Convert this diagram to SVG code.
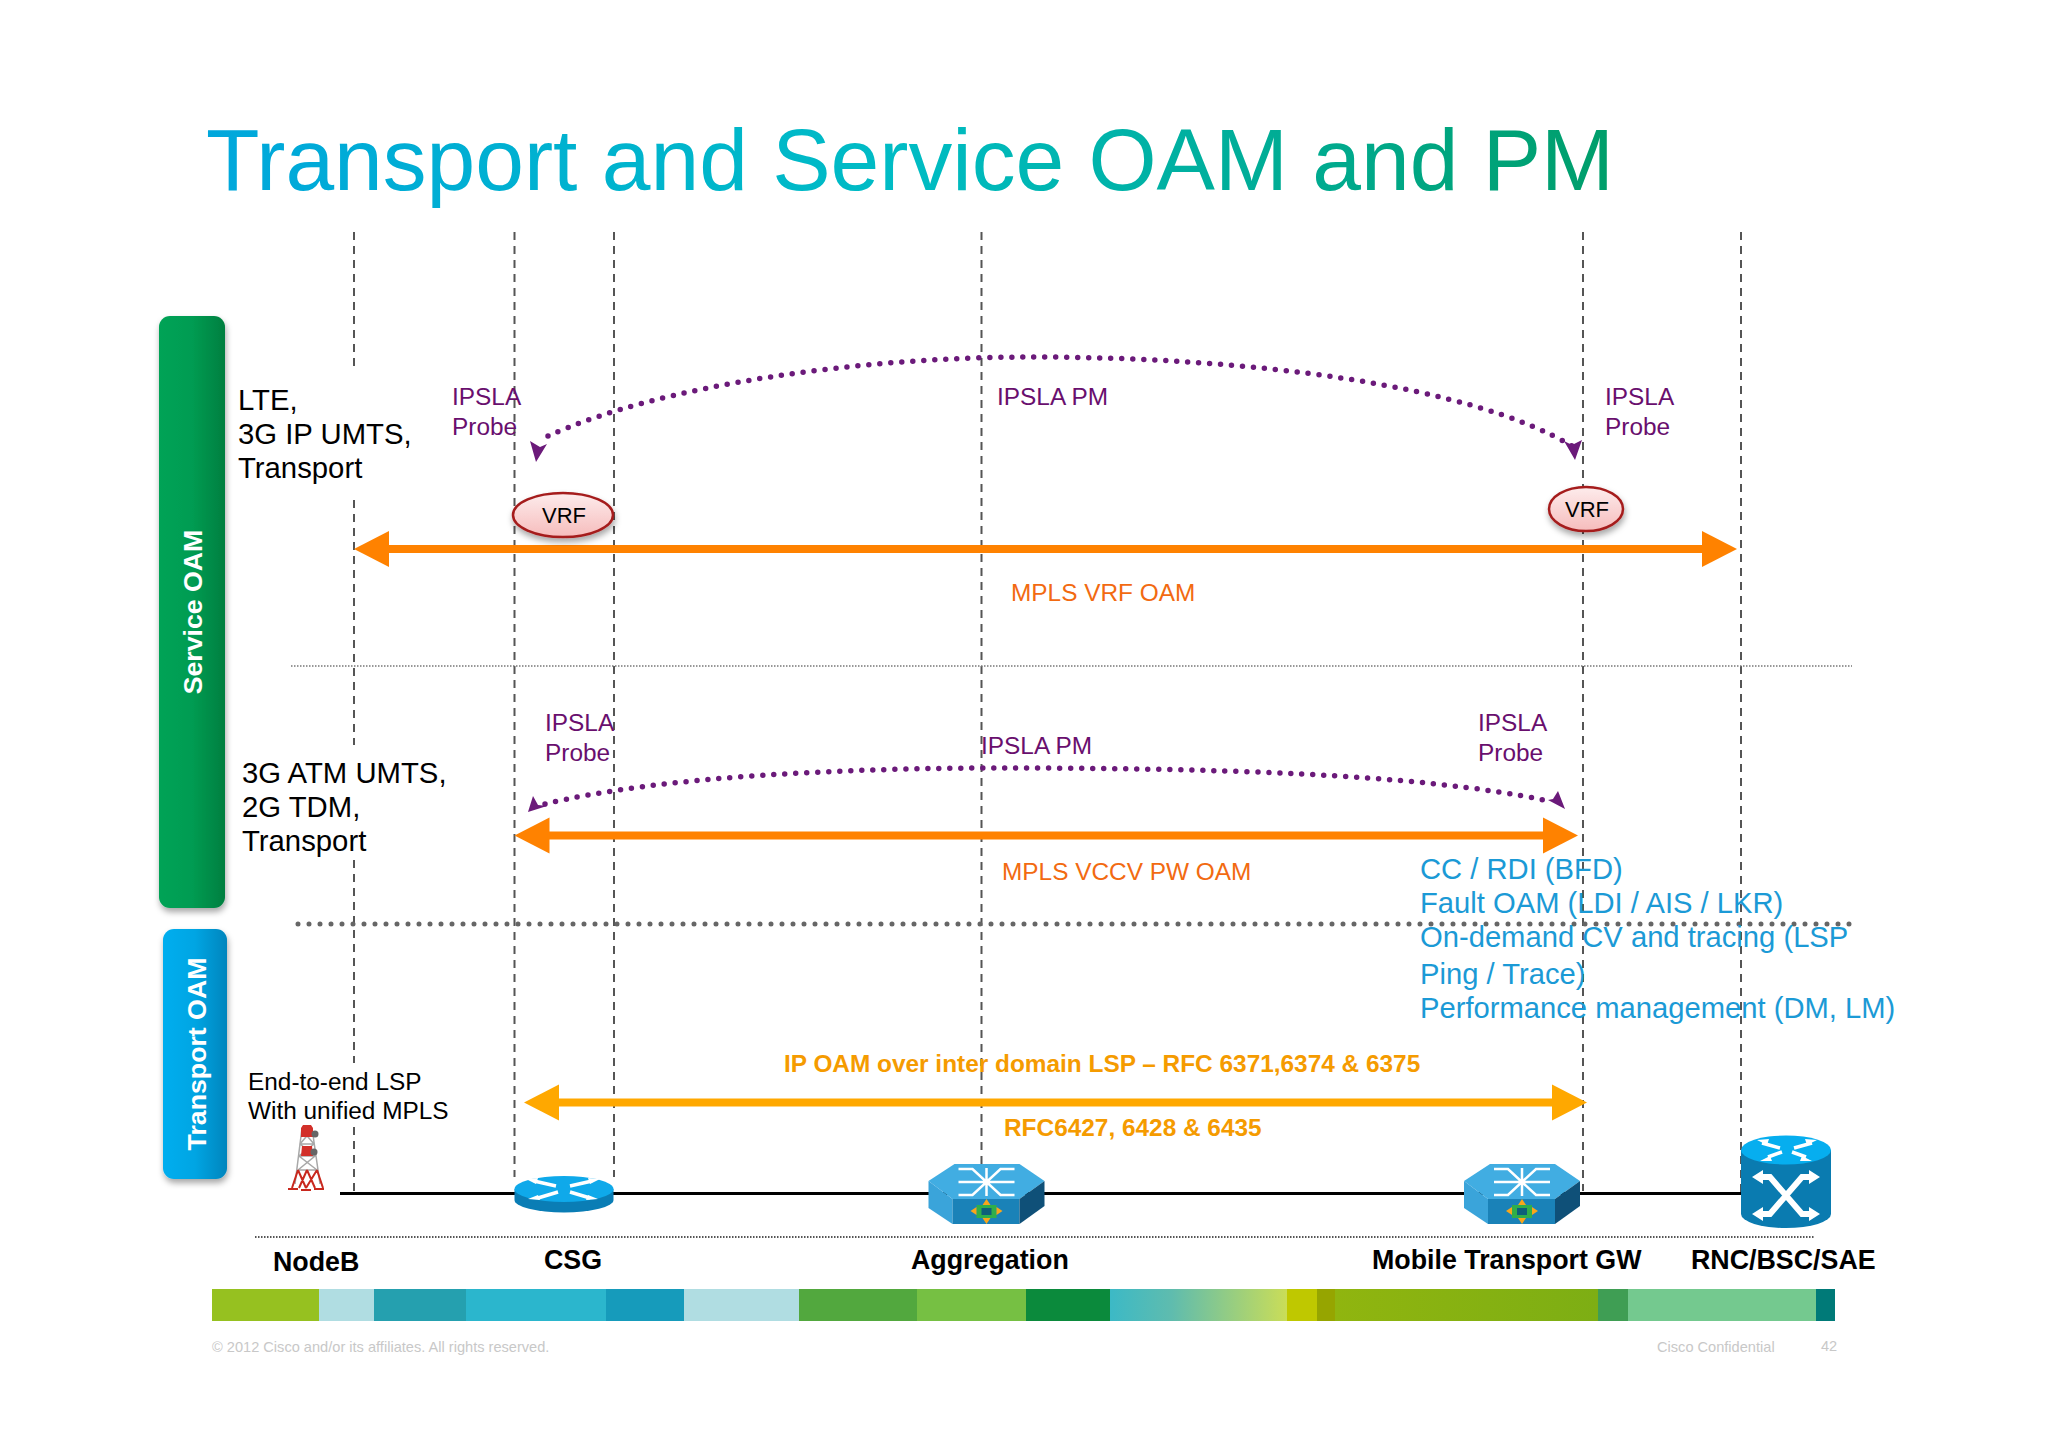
<svg xmlns="http://www.w3.org/2000/svg" width="2048" height="1447" viewBox="0 0 2048 1447">
<style>
text{font-family:"Liberation Sans",Arial,sans-serif}
.vd{stroke:#555;stroke-width:2;stroke-dasharray:8 6;fill:none}
.ip{fill:#690f6e;font-size:24.4px}
.bl{fill:#000;font-size:29.3px}
.or{fill:#f26a11;font-size:24.4px}
.cy{fill:#1b9ad6;font-size:29.2px}
.ye{fill:#f59b00;font-size:24.4px;font-weight:bold}
.lb{fill:#000;font-size:26.8px;font-weight:bold}
.ft{fill:#c8c8c8;font-size:14.6px}
.sd{fill:#fff;font-size:26.7px;font-weight:bold}
.arc{fill:none;stroke:#6b1a7a;stroke-width:5.5;stroke-linecap:round;stroke-dasharray:0 11}
.ora{stroke:#ff8200;stroke-width:8;fill:none}
.vrf{fill:url(#gv);stroke:#a51c1c;stroke-width:2.5;filter:url(#sh)}
.wl{stroke:#fff;fill:none;stroke-width:2.5}
.wa{stroke:#fff;fill:none;stroke-width:6}
.wf{fill:#fff}
</style>
<defs>
<linearGradient id="gt" gradientUnits="userSpaceOnUse" x1="206" y1="0" x2="1610" y2="0"><stop offset="0" stop-color="#00a7dc"/><stop offset="0.5" stop-color="#00bcc4"/><stop offset="1" stop-color="#009e6a"/></linearGradient>
<linearGradient id="gg" x1="0" x2="1" y1="0" y2="0"><stop offset="0" stop-color="#00a356"/><stop offset="0.5" stop-color="#009c52"/><stop offset="1" stop-color="#007f40"/></linearGradient>
<linearGradient id="gb" x1="0" x2="1" y1="0" y2="0"><stop offset="0" stop-color="#00aeef"/><stop offset="0.5" stop-color="#00a5e3"/><stop offset="1" stop-color="#0085bd"/></linearGradient>
<linearGradient id="gv" x1="0" x2="0" y1="0" y2="1"><stop offset="0" stop-color="#fdecec"/><stop offset="1" stop-color="#f6bcbc"/></linearGradient>
<linearGradient id="gm" gradientUnits="userSpaceOnUse" x1="1110" y1="0" x2="1287" y2="0"><stop offset="0" stop-color="#3cb9c6"/><stop offset="0.35" stop-color="#5fbcae"/><stop offset="1" stop-color="#cadd58"/></linearGradient>
<linearGradient id="go" gradientUnits="userSpaceOnUse" x1="1335" y1="0" x2="1598" y2="0"><stop offset="0" stop-color="#90b50f"/><stop offset="1" stop-color="#7dae14"/></linearGradient>
<filter id="sh" x="-20%" y="-20%" width="140%" height="140%"><feDropShadow dx="1" dy="4" stdDeviation="3" flood-color="#000" flood-opacity="0.35"/></filter>
<g id="hex">
<polygon points="0,17 26,0 91,0 116,17 91,35 24,35" fill="#41ade2"/>
<polygon points="0,17 24,35 24,60 0,44" fill="#3aa4da"/>
<polygon points="24,35 91,35 91,60 24,60" fill="#1a82b8"/>
<polygon points="91,35 116,17 116,42 91,60" fill="#0f5078"/>
<path class="wl" d="M30 5h14l28 26h14M30 31h14l28-26h14M30 18h56M58 4v28"/>
<rect x="48" y="41" width="20" height="13" fill="#2fae4a"/>
<rect x="53" y="44" width="10" height="7" fill="#0d5f7a"/>
<path d="M58 35l4 6h-8zM58 60l4-6h-8zM42 47l6-4v8zM74 47l-6-4v8z" fill="#f9a61a"/>
</g>
</defs>
<rect width="2048" height="1447" fill="#fff"/>

<text id="title" x="206" y="190" font-size="88" fill="url(#gt)" textLength="1408" lengthAdjust="spacingAndGlyphs">Transport and Service OAM and PM</text>

<g id="guides">
<path class="vd" d="M354 232V371M354 500V745M354 860V1063M354 1127V1193"/>
<path class="vd" d="M514.500 232V1177"/>
<path class="vd" d="M614 232V1177"/>
<path class="vd" d="M981.500 232V1166"/>
<path class="vd" d="M1583 232V1191"/>
<path class="vd" d="M1741 232V1193"/>
<line x1="291" y1="666" x2="1852" y2="666" stroke="#777" stroke-width="1.500" stroke-dasharray="1.500 1.500"/>
<line x1="298" y1="924" x2="1855" y2="924" stroke="#666" stroke-width="5" stroke-linecap="round" stroke-dasharray="0 11"/>
<line x1="255" y1="1237" x2="1815" y2="1237" stroke="#555" stroke-width="2" stroke-dasharray="1.500 1.500"/>
</g>

<g id="service-oam"><rect x="159" y="316" width="66" height="592" rx="11" fill="url(#gg)" filter="url(#sh)"/>
<text class="sd" transform="translate(202,612) rotate(-90)" text-anchor="middle">Service OAM</text></g>
<g id="transport-oam"><rect x="163" y="929" width="64" height="250" rx="11" fill="url(#gb)" filter="url(#sh)"/>
<text class="sd" transform="translate(206,1054) rotate(-90)" text-anchor="middle">Transport OAM</text></g>

<g id="connectors">
<line x1="340" y1="1193.500" x2="1745" y2="1193.500" stroke="#000" stroke-width="3"/>
<path class="ora" d="M385 549H1705"/>
<polygon points="354,549 389,531 389,567" fill="#ff8200"/>
<polygon points="1737,549 1702,531 1702,567" fill="#ff8200"/>
<path class="ora" d="M545 835.500H1548"/>
<polygon points="514.500,835.500 549.500,817.500 549.500,853.500" fill="#ff8200"/>
<polygon points="1578,835.500 1543,817.500 1543,853.500" fill="#ff8200"/>
<path d="M555 1102.500H1556" stroke="#ffa800" stroke-width="8" fill="none"/>
<polygon points="524,1102.500 559,1084.500 559,1120.500" fill="#ffa800"/>
<polygon points="1587,1102.500 1552,1084.500 1552,1120.500" fill="#ffa800"/>
<path class="arc" d="M548 436C660 385 860 357 1032 357C1250 357 1470 385 1572 446"/>
<polygon points="530,441 540,447 547,444 536,462" fill="#6b1a7a"/>
<polygon points="1564,441 1572,445 1582,440 1575,460" fill="#6b1a7a"/>
<path class="arc" d="M545 804C660 776 850 768 1000 768C1200 768 1420 773 1548 801"/>
<polygon points="533,796 538,805 547,806 528,812" fill="#6b1a7a"/>
<polygon points="1548,800 1553,799 1558,791 1565,809" fill="#6b1a7a"/>
</g>

<g id="labels">
<text class="bl" x="238" y="410">LTE,</text>
<text class="bl" x="238" y="444">3G IP UMTS,</text>
<text class="bl" x="238" y="478">Transport</text>
<text class="bl" x="242" y="783">3G ATM UMTS,</text>
<text class="bl" x="242" y="817">2G TDM,</text>
<text class="bl" x="242" y="851">Transport</text>
<text class="ip" x="452" y="405">IPSLA</text><text class="ip" x="452" y="435">Probe</text>
<text class="ip" x="997" y="405">IPSLA PM</text>
<text class="ip" x="1605" y="405">IPSLA</text><text class="ip" x="1605" y="435">Probe</text>
<text class="ip" x="545" y="731">IPSLA</text><text class="ip" x="545" y="761">Probe</text>
<text class="ip" x="981" y="754">IPSLA PM</text>
<text class="ip" x="1478" y="731">IPSLA</text><text class="ip" x="1478" y="761">Probe</text>
<text class="or" x="1011" y="601">MPLS VRF OAM</text>
<text class="or" x="1002" y="880">MPLS VCCV PW OAM</text>
<text class="cy" x="1420" y="879">CC / RDI (BFD)</text>
<text class="cy" x="1420" y="913">Fault OAM (LDI / AIS / LKR)</text>
<text class="cy" x="1420" y="947">On-demand CV and tracing (LSP</text>
<text class="cy" x="1420" y="984">Ping / Trace)</text>
<text class="cy" x="1420" y="1018">Performance management (DM, LM)</text>
<text class="ye" x="784" y="1072">IP OAM over inter domain LSP – RFC 6371,6374 &amp; 6375</text>
<text class="ye" x="1004" y="1136">RFC6427, 6428 &amp; 6435</text>
<text x="248" y="1090" font-size="24.4" fill="#000">End-to-end LSP</text>
<text x="248" y="1119" font-size="24.4" fill="#000">With unified MPLS</text>
</g>

<g id="vrf-left"><ellipse class="vrf" cx="563" cy="515" rx="50" ry="22"/><text x="564" y="523" font-size="22" text-anchor="middle" fill="#000">VRF</text></g>
<g id="vrf-right"><ellipse class="vrf" cx="1586" cy="509" rx="37" ry="22"/><text x="1587" y="517" font-size="22" text-anchor="middle" fill="#000">VRF</text></g>

<g id="nodeb" fill="none">
<path d="M302 1128L295 1184M312 1128L320 1184M300 1144H314M299 1156H315M298 1170H317M302 1130L314 1144L299 1156L317 1170M312 1130L300 1144L315 1156L298 1170" stroke="#a8a8a8" stroke-width="1.500"/>
<path d="M303 1125h8l2 3v9h-12v-9zM302 1146h10l1 10h-12z" fill="#d2302a"/>
<path d="M298 1170L292 1188M317 1170L323 1188M298 1170L306 1188M317 1170L306 1188M307 1170L299 1188M307 1170L315 1188M288 1189h10M301 1190h10M314 1189h10" stroke="#c8281e" stroke-width="2"/>
<circle cx="315" cy="1134" r="3.500" fill="#666"/><circle cx="314" cy="1152" r="3.500" fill="#666"/>
</g>
<g id="csg">
<path d="M514.500 1189V1200A49.500 12.500 0 0 0 613.500 1200V1189Z" fill="#0a7db5"/>
<ellipse cx="564" cy="1189" rx="49.500" ry="13" fill="#0fa9ea"/>
<path d="M534 1181l22 5M592 1181l-22 5M538 1198l20-6M590 1198l-20-6" stroke="#fff" stroke-width="3.500" fill="none"/>
<path class="wf" d="M526 1179l12-1-2 6zM600 1179l-12-1 2 6zM528 1199l10-4 2 5zM598 1199l-10-4-2 5z"/>
</g>
<use id="aggregation" href="#hex" x="928.500" y="1164"/>
<use id="mobile-gw" href="#hex" x="1464" y="1164"/>
<g id="rnc">
<path d="M1741 1150V1214A45 14 0 0 0 1831 1214V1150Z" fill="#0a7bb0"/>
<ellipse cx="1786" cy="1150" rx="45" ry="14.500" fill="#06aeef"/>
<path d="M1762 1143l18 5M1812 1143l-18 5M1768 1157l14-5M1806 1157l-14-5" stroke="#fff" stroke-width="3.500" fill="none"/>
<path class="wf" d="M1757 1140l12-1-2 6zM1817 1140l-12-1 2 6zM1760 1161l10-5 2 5zM1812 1161l-10-5-2 5z"/>
<path class="wa" d="M1758 1177h12l32 37h12M1814 1177h-12l-32 37h-12"/>
<path class="wf" d="M1752 1177l11-7v14zM1820 1177l-11-7v14zM1752 1214l11-7v14zM1820 1214l-11-7v14z"/>
</g>

<g id="node-labels">
<text class="lb" x="273" y="1271">NodeB</text>
<text class="lb" x="544" y="1269">CSG</text>
<text class="lb" x="911" y="1269">Aggregation</text>
<text class="lb" x="1372" y="1269">Mobile Transport GW</text>
<text class="lb" x="1691" y="1269">RNC/BSC/SAE</text>
</g>

<g id="bar">
<rect x="212" y="1289" width="107" height="32" fill="#96c120"/>
<rect x="319" y="1289" width="55" height="32" fill="#b0dde2"/>
<rect x="374" y="1289" width="92" height="32" fill="#25a0af"/>
<rect x="466" y="1289" width="140" height="32" fill="#2bb6cd"/>
<rect x="606" y="1289" width="78" height="32" fill="#169bbb"/>
<rect x="684" y="1289" width="115" height="32" fill="#b0dde2"/>
<rect x="799" y="1289" width="118" height="32" fill="#52a83e"/>
<rect x="917" y="1289" width="109" height="32" fill="#76c043"/>
<rect x="1026" y="1289" width="84" height="32" fill="#0b8a3c"/>
<rect x="1110" y="1289" width="177" height="32" fill="url(#gm)"/>
<rect x="1287" y="1289" width="30" height="32" fill="#bfc800"/>
<rect x="1317" y="1289" width="18" height="32" fill="#96a500"/>
<rect x="1335" y="1289" width="263" height="32" fill="url(#go)"/>
<rect x="1598" y="1289" width="30" height="32" fill="#3f9e54"/>
<rect x="1628" y="1289" width="188" height="32" fill="#74c98f"/>
<rect x="1816" y="1289" width="19" height="32" fill="#007a78"/>
</g>
<g id="footer">
<text class="ft" x="212" y="1352">© 2012 Cisco and/or its affiliates. All rights reserved.</text>
<text class="ft" x="1657" y="1352">Cisco Confidential</text>
<text class="ft" x="1821" y="1351">42</text>
</g>
</svg>
